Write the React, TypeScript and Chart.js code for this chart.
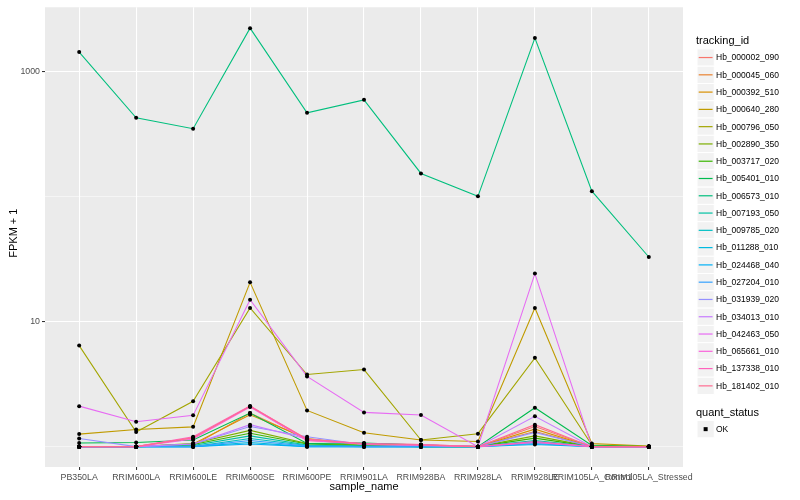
import React, { useEffect, useRef } from "react";
import { Chart, registerables } from "chart.js";
Chart.register(...registerables);

const FONT = '"Liberation Sans", Arial, Helvetica, sans-serif';

const samples = [
  "PB350LA", "RRIM600LA", "RRIM600LE", "RRIM600SE", "RRIM600PE", "RRIM901LA",
  "RRIM928BA", "RRIM928LA", "RRIM928LE", "RRIM105LA_Control", "RRIM105LA_Stressed",
];

const trackingIds = [
  "Hb_000002_090", "Hb_000045_060", "Hb_000392_510", "Hb_000640_280", "Hb_000796_050",
  "Hb_002890_350", "Hb_003717_020", "Hb_005401_010", "Hb_006573_010", "Hb_007193_050",
  "Hb_009785_020", "Hb_011288_010", "Hb_024468_040", "Hb_027204_010", "Hb_031939_020",
  "Hb_034013_010", "Hb_042463_050", "Hb_065661_010", "Hb_137338_010", "Hb_181402_010",
];

const seriesColors = [
  "#F8766D", "#EA8331", "#D89000", "#C09B00", "#A3A500", "#7CAE00", "#39B600", "#00BB4E",
  "#00BF7D", "#00C1A3", "#00BFC4", "#00BAE0", "#00B0F6", "#35A2FF", "#9590FF", "#C77CFF",
  "#E76BF3", "#FA62DB", "#FF62BC", "#FF6C91",
];

// FPKM + 1 per sample (order of `samples`)
const hb_000002_090 = [1.0, 1.0, 1.18, 2.1, 1.12, 1.06, 1.04, 1.0, 1.45, 1.0, 1.0];
const hb_000045_060 = [1.0, 1.0, 1.02, 1.86, 1.14, 1.05, 1.02, 1.0, 1.32, 1.0, 1.0];
const hb_000392_510 = [1.0, 1.0, 1.05, 1.8, 1.16, 1.04, 1.02, 1.0, 1.38, 1.0, 1.0];
const hb_000640_280 = [1.26, 1.37, 1.44, 20.7, 1.95, 1.29, 1.13, 1.1, 12.9, 1.06, 1.01];
const hb_000796_050 = [6.44, 1.31, 2.31, 12.9, 3.78, 4.14, 1.13, 1.27, 5.14, 1.03, 1.0];
const hb_002890_350 = [1.0, 1.0, 1.06, 1.35, 1.06, 1.03, 1.0, 1.0, 1.22, 1.0, 1.0];
const hb_003717_020 = [1.0, 1.0, 1.04, 1.28, 1.05, 1.02, 1.0, 1.0, 1.17, 1.0, 1.0];
const hb_005401_010 = [1.07, 1.08, 1.13, 1.86, 1.06, 1.07, 1.03, 1.0, 2.05, 1.02, 1.0];
const hb_006573_010 = [1443, 430, 351, 2244, 471, 598, 154, 101, 1867, 111, 33];
const hb_007193_050 = [1.0, 1.0, 1.02, 1.22, 1.03, 1.01, 1.0, 1.0, 1.12, 1.0, 1.0];
const hb_009785_020 = [1.0, 1.0, 1.0, 1.16, 1.02, 1.0, 1.0, 1.0, 1.1, 1.0, 1.0];
const hb_011288_010 = [1.0, 1.0, 1.0, 1.08, 1.0, 1.0, 1.0, 1.0, 1.06, 1.0, 1.0];
const hb_024468_040 = [1.0, 1.0, 1.0, 1.05, 1.0, 1.0, 1.0, 1.0, 1.04, 1.0, 1.0];
const hb_027204_010 = [1.0, 1.0, 1.0, 1.12, 1.01, 1.0, 1.0, 1.0, 1.08, 1.0, 1.0];
const hb_031939_020 = [1.16, 1.0, 1.05, 1.45, 1.2, 1.04, 1.02, 1.0, 1.3, 1.0, 1.0];
const hb_034013_010 = [1.0, 1.0, 1.05, 1.5, 1.15, 1.04, 1.02, 1.0, 1.75, 1.0, 1.0];
const hb_042463_050 = [2.11, 1.58, 1.78, 15.0, 3.65, 1.88, 1.79, 1.0, 24.3, 1.0, 1.0];
const hb_065661_010 = [1.0, 1.0, 1.15, 2.08, 1.12, 1.05, 1.03, 1.0, 1.08, 1.0, 1.0];
const hb_137338_010 = [1.0, 1.0, 1.2, 2.12, 1.14, 1.06, 1.04, 1.0, 1.1, 1.0, 1.0];
const hb_181402_010 = [1.0, 1.0, 1.18, 2.1, 1.15, 1.05, 1.03, 1.0, 1.5, 1.0, 1.0];

const seriesValues = [
  hb_000002_090, hb_000045_060, hb_000392_510, hb_000640_280, hb_000796_050,
  hb_002890_350, hb_003717_020, hb_005401_010, hb_006573_010, hb_007193_050,
  hb_009785_020, hb_011288_010, hb_024468_040, hb_027204_010, hb_031939_020,
  hb_034013_010, hb_042463_050, hb_065661_010, hb_137338_010, hb_181402_010,
];

const yGridValues = [1, 10, 100, 1000];
const yLabelledValues = [10, 1000];
const quantStatus = ["OK"];

const panelBgPlugin = {
  id: "panelBg",
  beforeDraw(chart: any) {
    const { ctx, chartArea: a } = chart;
    ctx.save();
    ctx.fillStyle = "#EBEBEB";
    ctx.fillRect(a.left, a.top, a.right - a.left, a.bottom - a.top);
    ctx.restore();
  },
};

const annotationsPlugin = {
  id: "ggAnnotations",
  afterDraw(chart: any) {
    const { ctx, chartArea: a } = chart;
    ctx.save();
    // axis titles
    ctx.fillStyle = "#000000";
    ctx.font = `11px ${FONT}`;
    ctx.textAlign = "center";
    ctx.textBaseline = "middle";
    ctx.fillText("sample_name", (a.left + a.right) / 2, 487);
    ctx.save();
    ctx.translate(14, (a.top + a.bottom) / 2 - 4);
    ctx.rotate(-Math.PI / 2);
    ctx.fillText("FPKM + 1", 0, 0);
    ctx.restore();

    // legend: tracking_id
    const keyX = 697;
    const keyS = 17.28;
    ctx.textAlign = "left";
    ctx.textBaseline = "alphabetic";
    ctx.font = `11px ${FONT}`;
    ctx.fillText("tracking_id", 696, 44);
    const top0 = 48.9;
    trackingIds.forEach((id, i) => {
      const y = top0 + i * keyS;
      ctx.fillStyle = "#F2F2F2";
      ctx.fillRect(keyX, y, keyS, keyS);
      ctx.strokeStyle = "#FFFFFF";
      ctx.lineWidth = 1;
      ctx.strokeRect(keyX, y, keyS, keyS);
      ctx.strokeStyle = seriesColors[i];
      ctx.lineWidth = 1.2;
      ctx.beginPath();
      ctx.moveTo(keyX + 1.7, y + keyS / 2);
      ctx.lineTo(keyX + keyS - 1.7, y + keyS / 2);
      ctx.stroke();
      ctx.fillStyle = "#000000";
      ctx.font = `8.5px ${FONT}`;
      ctx.textBaseline = "middle";
      ctx.fillText(id, 716, y + keyS / 2 + 0.5);
    });

    // legend: quant_status
    ctx.font = `11px ${FONT}`;
    ctx.textBaseline = "middle";
    ctx.fillStyle = "#000000";
    ctx.fillText("quant_status", 696, 412.5);
    quantStatus.forEach((s, i) => {
      const y = 420.5 + i * keyS;
      ctx.fillStyle = "#F2F2F2";
      ctx.fillRect(keyX, y, keyS, keyS);
      ctx.strokeStyle = "#FFFFFF";
      ctx.lineWidth = 1;
      ctx.strokeRect(keyX, y, keyS, keyS);
      ctx.fillStyle = "#000000";
      ctx.fillRect(keyX + keyS / 2 - 2, y + keyS / 2 - 2, 4, 4);
      ctx.font = `8.5px ${FONT}`;
      ctx.fillText(s, 716, y + keyS / 2 + 0.5);
    });
    ctx.restore();
  },
};

export default function App() {
  const canvasRef = useRef<HTMLCanvasElement | null>(null);

  useEffect(() => {
    if (!canvasRef.current) return;
    const lineDatasets = seriesValues.map((vals, i) => ({
      label: trackingIds[i],
      data: vals.map((v, j) => ({ x: j, y: v })),
      borderColor: seriesColors[i],
      backgroundColor: seriesColors[i],
      borderWidth: 1.07,
      pointRadius: 0,
      pointHoverRadius: 0,
      fill: false,
      tension: 0,
      order: seriesValues.length - i,
    }));
    const pointDataset = {
      label: "quant_status",
      data: seriesValues.flatMap((vals) => vals.map((v, j) => ({ x: j, y: v }))),
      showLine: false,
      pointRadius: 2,
      pointStyle: "circle",
      pointBackgroundColor: "#000000",
      pointBorderWidth: 0,
      borderWidth: 0,
      order: 0,
    };

    const chart = new Chart(canvasRef.current, {
      type: "line",
      data: { datasets: [...lineDatasets, pointDataset] as any },
      options: {
        animation: false,
        responsive: false,
        devicePixelRatio: 1,
        layout: { padding: { left: 0, top: 5, right: 117, bottom: 0 } },
        plugins: { legend: { display: false }, tooltip: { enabled: false } },
        scales: {
          x: {
            type: "linear",
            min: -0.6,
            max: 10.6,
            afterBuildTicks: (s: any) => {
              s.ticks = samples.map((_, i) => ({ value: i }));
            },
            afterFit: (s: any) => {
              s.height = 33;
            },
            grid: {
              color: "#FFFFFF",
              lineWidth: 1.07,
              tickColor: "#333333",
              tickWidth: 1.07,
              tickLength: 3,
            },
            border: { display: false },
            ticks: {
              autoSkip: false,
              maxRotation: 0,
              minRotation: 0,
              padding: 2,
              color: "#4D4D4D",
              font: { size: 8.8, family: FONT },
              callback: (v: any) => samples[v] ?? "",
            },
          },
          y: {
            type: "logarithmic",
            min: 0.687,
            max: 3296,
            afterBuildTicks: (s: any) => {
              s.ticks = yGridValues.map((v) => ({ value: v }));
            },
            afterFit: (s: any) => {
              s.width = 45;
            },
            grid: {
              color: "#FFFFFF",
              lineWidth: (c: any) => (yLabelledValues.includes(c.tick?.value) ? 1.07 : 0.53),
              tickColor: (c: any) =>
                yLabelledValues.includes(c.tick?.value) ? "#333333" : "rgba(0,0,0,0)",
              tickWidth: 1.07,
              tickLength: 3,
            },
            border: { display: false },
            ticks: {
              padding: 2,
              color: "#4D4D4D",
              font: { size: 8.8, family: FONT },
              callback: (v: any) => (yLabelledValues.includes(v) ? String(v) : ""),
            },
          },
        },
      } as any,
      plugins: [panelBgPlugin, annotationsPlugin],
    });
    return () => chart.destroy();
  }, []);

  return (
    <div style={{ position: "fixed", left: 0, top: 0, width: 800, height: 500, background: "#FFFFFF" }}>
      <canvas ref={canvasRef} width={800} height={500} style={{ width: 800, height: 500 }} />
    </div>
  );
}
